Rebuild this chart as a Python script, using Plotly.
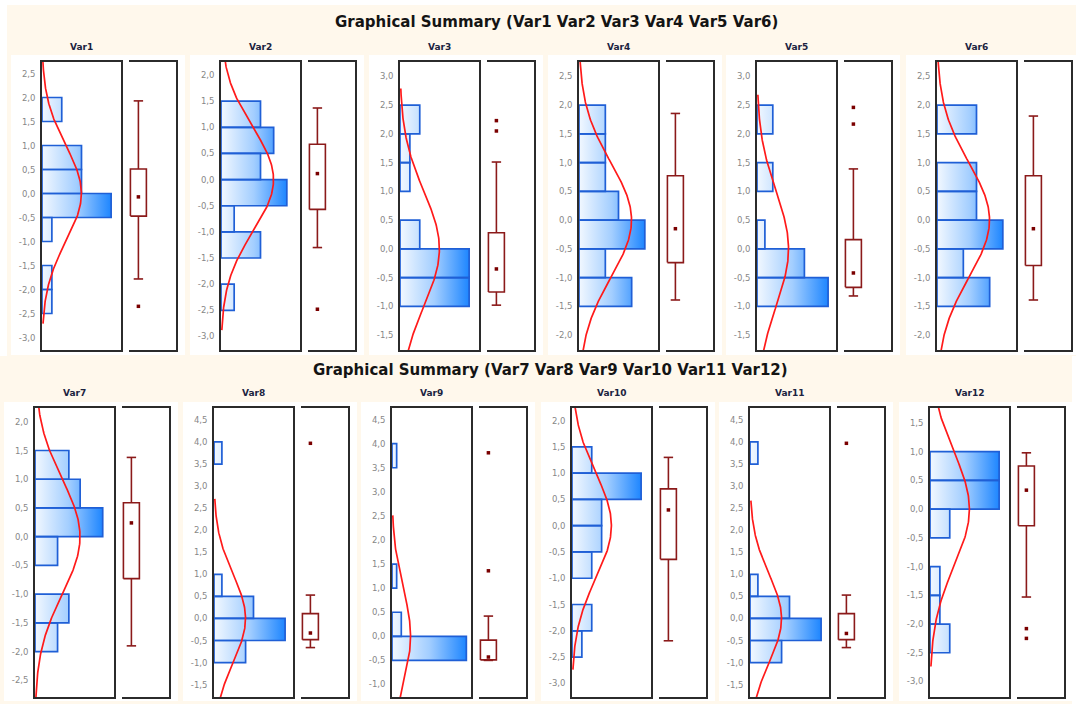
import numpy as np
import plotly.graph_objects as go

# ---------------------------------------------------------------- data
VARS = [f"Var{i}" for i in range(1, 13)]
BIN_WIDTH = 0.5

# lower edge of each occupied histogram bin and its count
BIN_LOW = [
    [1.5, 0.5, 0.0, -0.5, -1.0, -2.0, -2.5],
    [1.0, 0.5, 0.0, -0.5, -1.0, -1.5, -2.5],
    [2.0, 1.5, 1.0, 0.0, -0.5, -1.0],
    [1.5, 1.0, 0.5, 0.0, -0.5, -1.0, -1.5],
    [2.0, 1.0, 0.0, -0.5, -1.0],
    [1.5, 0.5, 0.0, -0.5, -1.0, -1.5],
    [1.0, 0.5, 0.0, -0.5, -1.5, -2.0],
    [3.5, 0.5, 0.0, -0.5, -1.0],
    [3.5, 1.0, 0.0, -0.5],
    [1.0, 0.5, 0.0, -0.5, -1.0, -2.0, -2.5],
    [3.5, 0.5, 0.0, -0.5, -1.0],
    [0.5, 0.0, -0.5, -1.5, -2.0, -2.5],
]
COUNTS = [
    [2, 4, 4, 7, 1, 1, 1],
    [3, 4, 3, 5, 1, 3, 1],
    [2, 1, 1, 2, 7, 7],
    [2, 2, 2, 3, 5, 2, 4],
    [2, 2, 1, 6, 9],
    [3, 3, 3, 5, 2, 4],
    [3, 4, 6, 2, 3, 2],
    [1, 1, 5, 9, 4],
    [1, 1, 2, 16],
    [2, 7, 3, 3, 2, 2, 1],
    [1, 1, 5, 9, 4],
    [7, 7, 2, 1, 1, 2],
]

# fitted normal parameters (standardised variables)
MEAN = [0.0, 0.0, 0.0, 0.0, 0.0, 0.0, 0.0, 0.0, 0.0, 0.0, 0.0, 0.0]
SD = [1.0, 1.0, 1.0, 1.0, 1.0, 1.0, 1.0, 1.0, 1.0, 1.0, 1.0, 1.0]
CURVE_LO = [-2.71, -2.88, -2.75, -2.75, -2.75, -2.75, -2.8, -2.75, -2.75, -2.74, -2.75, -2.74]
CURVE_HI = [2.75, 2.75, 2.79, 2.75, 2.68, 2.75, 2.75, 2.71, 2.51, 2.75, 2.67, 2.75]

# box-plot statistics
LOWER_WHISKER = [-1.78, -1.30, -0.98, -1.39, -0.82, -1.39, -1.90, -0.66, -0.50, -2.19, -0.66, -1.53]
Q1 = [-0.47, -0.57, -0.75, -0.74, -0.67, -0.79, -0.73, -0.48, -0.49, -0.64, -0.48, -0.29]
MEDIAN = [-0.07, 0.115, -0.35, -0.15, -0.42, -0.15, 0.24, -0.33, -0.43, 0.30, -0.34, 0.33]
Q3 = [0.51, 0.675, 0.28, 0.77, 0.16, 0.77, 0.59, 0.11, -0.08, 0.70, 0.11, 0.75]
UPPER_WHISKER = [1.93, 1.37, 1.51, 1.855, 1.39, 1.81, 1.38, 0.53, 0.42, 1.30, 0.53, 0.98]
OUTLIERS = [
    [-2.35], [-2.48], [2.05, 2.23], [], [2.17, 2.46], [],
    [], [3.97], [1.36, 3.81], [], [3.97], [-2.08, -2.25],
]

# value-axis ranges
Y_RANGES = [
    [-3.26, 2.74], [-3.26, 2.25], [-1.76, 3.25], [-2.26, 2.75], [-1.76, 3.25], [-2.26, 2.75],
    [-2.79, 2.24], [-1.78, 4.77], [-1.26, 4.74], [-3.26, 2.24], [-1.78, 4.77], [-3.27, 1.76],
]

SECTION_TITLES = [
    "Graphical Summary (Var1 Var2 Var3 Var4 Var5 Var6)",
    "Graphical Summary (Var7 Var8 Var9 Var10 Var11 Var12)",
]

# ---------------------------------------------------------------- layout geometry (pixels)
W, H = 1076, 704
HIST_LEFT = [[42, 221, 400, 579, 757, 937], [35, 214, 392, 572, 750, 930]]
ROW_TOP = [62, 408]
ROW_BOTTOM = [350, 697]
PANEL_TOP = [55, 402]
PANEL_BOTTOM = [355, 701]
TITLE_Y = [22, 370]
TITLE_X = [556, 550]
LABEL_Y = [47, 393]
HIST_W = 79
BOX_OFF0, BOX_OFF1 = 87, 134

CREAM = "#FFF8EC"
FRAME = "#2b2b2b"
BOX_RED = "#8B1A1A"
CURVE_RED = "#FF1A1A"
BAR_EDGE = "#1F5FD6"
TICK_GREY = "#878787"
FONT = "DejaVu Sans, Verdana, sans-serif"

BOX_CENTER, BOX_HALF, CAP_HALF = 0.2, 0.17, 0.1


def fx(px):
    return px / W


def fy(py):
    return 1 - py / H


def tick_text(v):
    return f"{v:.1f}".replace(".", ",")


fig = go.Figure()
layout = {}
shapes = [
    dict(type="rect", xref="paper", yref="paper", x0=fx(7), x1=fx(W), y0=fy(356), y1=fy(5),
         fillcolor=CREAM, line_width=0, layer="below"),
    dict(type="rect", xref="paper", yref="paper", x0=0, x1=fx(1072), y0=fy(H), y1=fy(356),
         fillcolor=CREAM, line_width=0, layer="below"),
]
annotations = []

for r in range(2):
    annotations.append(dict(
        text=SECTION_TITLES[r], x=fx(TITLE_X[r]), y=fy(TITLE_Y[r]), xref="paper", yref="paper",
        showarrow=False, xanchor="center", yanchor="middle",
        font=dict(family=FONT, size=15, color="#141414", weight="bold")))

for i, name in enumerate(VARS):
    r, c = divmod(i, 6)
    hx0 = HIST_LEFT[r][c]
    hx1 = hx0 + HIST_W
    bx0, bx1 = hx0 + BOX_OFF0, hx0 + BOX_OFF1
    ydom = [fy(ROW_BOTTOM[r]), fy(ROW_TOP[r])]

    # white panel behind each variable
    shapes.append(dict(type="rect", xref="paper", yref="paper",
                       x0=fx(hx0 - 31), x1=fx(hx0 + 143), y0=fy(PANEL_BOTTOM[r]), y1=fy(PANEL_TOP[r]),
                       fillcolor="white", line_width=0, layer="below"))
    annotations.append(dict(
        text=name, x=fx((hx0 + hx1) / 2), y=fy(LABEL_Y[r]), xref="paper", yref="paper",
        showarrow=False, xanchor="center", yanchor="middle",
        font=dict(family=FONT, size=9, color="#1b2340", weight="bold")))

    ha, ba = 2 * i + 1, 2 * i + 2
    xh, yh = ("x", "y") if ha == 1 else (f"x{ha}", f"y{ha}")
    xb, yb = f"x{ba}", f"y{ba}"
    kxh = "xaxis" if ha == 1 else f"xaxis{ha}"
    kyh = "yaxis" if ha == 1 else f"yaxis{ha}"

    counts = COUNTS[i]
    xmax = max(counts) + 1
    lo, hi = Y_RANGES[i]
    tv = [k * 0.5 for k in range(int(np.ceil(lo / 0.5)), int(np.floor(hi / 0.5)) + 1)]

    layout[kxh] = dict(domain=[fx(hx0), fx(hx1)], range=[0, xmax], anchor=yh,
                       showline=True, mirror=True, linecolor=FRAME, linewidth=1.7,
                       showgrid=False, zeroline=False, showticklabels=False, ticks="")
    layout[kyh] = dict(domain=ydom, range=[lo, hi], anchor=xh,
                       showline=True, mirror=True, linecolor=FRAME, linewidth=1.7,
                       showgrid=False, zeroline=False, ticks="",
                       tickvals=tv, ticktext=[tick_text(v) for v in tv],
                       tickfont=dict(family=FONT, size=8.5, color=TICK_GREY),
                       ticklabelstandoff=3)
    layout[f"xaxis{ba}"] = dict(domain=[fx(bx0), fx(bx1)], range=[0, 1], anchor=yb,
                                showline=True, mirror=True, linecolor=FRAME, linewidth=1.7,
                                showgrid=False, zeroline=False, showticklabels=False, ticks="")
    layout[f"yaxis{ba}"] = dict(domain=ydom, range=[lo, hi], anchor=xb, side="right",
                                showline=True, mirror=False, linecolor=FRAME, linewidth=1.7,
                                showgrid=False, zeroline=False, showticklabels=False, ticks="")

    # histogram bars as filled outlines with a horizontal gradient
    bxs, bys = [], []
    for b, n in zip(BIN_LOW[i], counts):
        bxs += [0, n, n, 0, 0, None]
        bys += [b, b, b + BIN_WIDTH, b + BIN_WIDTH, b, None]
    fig.add_trace(go.Scatter(
        x=bxs, y=bys, mode="lines", fill="toself",
        fillgradient=dict(type="horizontal", start=0, stop=max(counts),
                          colorscale=[[0, "#F2F8FF"], [0.5, "#A3CEFF"], [1, "#1E86FF"]]),
        line=dict(color=BAR_EDGE, width=1.7), xaxis=xh, yaxis=yh,
        hoverinfo="skip", showlegend=False))

    # fitted normal curve scaled to counts
    yy = np.linspace(CURVE_LO[i], CURVE_HI[i], 240)
    total = sum(counts)
    dens = np.exp(-0.5 * ((yy - MEAN[i]) / SD[i]) ** 2) / (SD[i] * np.sqrt(2 * np.pi))
    fig.add_trace(go.Scatter(
        x=total * BIN_WIDTH * dens, y=yy, mode="lines",
        line=dict(color=CURVE_RED, width=1.7), xaxis=xh, yaxis=yh,
        hoverinfo="skip", showlegend=False))

    # box plot
    cx = BOX_CENTER
    lx = [cx - BOX_HALF, cx + BOX_HALF, cx + BOX_HALF, cx - BOX_HALF, cx - BOX_HALF, None,
          cx, cx, None, cx, cx, None,
          cx - CAP_HALF, cx + CAP_HALF, None, cx - CAP_HALF, cx + CAP_HALF]
    ly = [Q1[i], Q1[i], Q3[i], Q3[i], Q1[i], None,
          Q3[i], UPPER_WHISKER[i], None, Q1[i], LOWER_WHISKER[i], None,
          UPPER_WHISKER[i], UPPER_WHISKER[i], None, LOWER_WHISKER[i], LOWER_WHISKER[i]]
    fig.add_trace(go.Scatter(
        x=lx, y=ly, mode="lines", line=dict(color=BOX_RED, width=1.6),
        xaxis=xb, yaxis=yb, hoverinfo="skip", showlegend=False))
    pts = [MEDIAN[i]] + OUTLIERS[i]
    fig.add_trace(go.Scatter(
        x=[cx] * len(pts), y=pts, mode="markers",
        marker=dict(symbol="square", size=3.5, color="#7A0000", line_width=0),
        xaxis=xb, yaxis=yb, hoverinfo="skip", showlegend=False))

fig.update_layout(
    width=W, height=H, margin=dict(l=0, r=0, t=0, b=0),
    paper_bgcolor="white", plot_bgcolor="white",
    shapes=shapes, annotations=annotations, showlegend=False,
    **layout,
)
fig.write_html("out.html", include_plotlyjs=True, config={"displayModeBar": False})
